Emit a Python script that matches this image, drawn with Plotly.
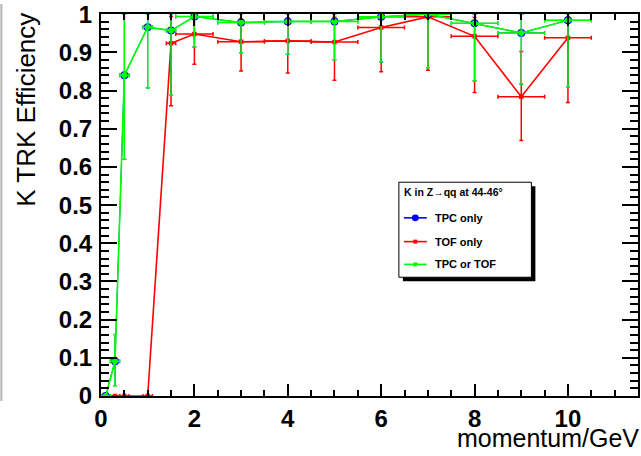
import plotly.graph_objects as go

# ---------------- data ----------------
p = [0.1, 0.3, 0.5, 1.0, 1.5, 2, 3, 4, 5, 6, 7, 8, 9, 10]
p_err = [0.1, 0.1, 0.1, 0.1, 0.1, 0.4, 0.5, 0.5, 0.5, 0.5, 0.5, 0.5, 0.5, 0.5]

eff_tpc = [0.0, 0.091, 0.84, 0.966, 0.957, 0.994, 0.978, 0.981, 0.981, 0.993, 1.0, 0.976, 0.951, 0.984]
eff_tpc_up = [0.0, 0.07, 0.16, 0.034, 0.043, 0.006, 0.022, 0.019, 0.019, 0.007, 0.0, 0.024, 0.049, 0.016]
eff_tpc_lo = [0.0, 0.064, 0.22, 0.159, 0.169, 0.08, 0.079, 0.086, 0.1, 0.118, 0.14, 0.151, 0.134, 0.174]

eff_tof = [0.0, 0.0, 0.0, 0.0, 0.924, 0.948, 0.928, 0.93, 0.927, 0.965, 0.993, 0.942, 0.784, 0.938]
eff_tof_up = [0.0, 0.0, 0.0, 0.0, 0.07, 0.045, 0.06, 0.06, 0.065, 0.03, 0.007, 0.05, 0.118, 0.055]
eff_tof_lo = [0.0, 0.0, 0.0, 0.0, 0.164, 0.079, 0.077, 0.084, 0.1, 0.116, 0.14, 0.147, 0.115, 0.169]

eff_any = [0.0, 0.091, 0.84, 0.966, 0.957, 0.994, 0.978, 0.981, 0.981, 0.993, 1.0, 0.976, 0.951, 0.984]
eff_any_up = [0.0, 0.07, 0.16, 0.034, 0.043, 0.006, 0.022, 0.019, 0.019, 0.007, 0.0, 0.024, 0.049, 0.016]
eff_any_lo = [0.0, 0.064, 0.22, 0.159, 0.169, 0.08, 0.079, 0.086, 0.1, 0.118, 0.14, 0.151, 0.134, 0.174]

legend_title = "K in Z\u2192qq at 44-46\u00b0"
series_names = ["TPC only", "TOF only", "TPC or TOF"]
series_colors = ["#0000ff", "#ff0000", "#00ff00"]
x_title = "momentum/GeV"
y_title = "K TRK Efficiency"

# ---------------- layout geometry ----------------
W, H = 641, 456
ML, MR, MT, MB = 101, 1, 10, 60
PW, PH = W - ML - MR, H - MT - MB


def px(xp):
    return (xp - ML) / PW


def py(yp):
    return (H - MB - yp) / PH


FONT = "Liberation Sans, Arial, Helvetica, sans-serif"

fig = go.Figure()


def add_series(y, up, lo, color, msize, msymbol, lw=1.6, ew=1.5):
    fig.add_trace(go.Scatter(
        x=p, y=y, mode="lines+markers",
        line=dict(color=color, width=lw),
        marker=dict(color=color, size=msize, symbol=msymbol, line=dict(width=0)),
        error_x=dict(type="data", array=p_err, color=color, thickness=ew, width=2),
        error_y=dict(type="data", symmetric=False, array=up, arrayminus=lo,
                     color=color, thickness=ew, width=2),
        showlegend=False, hoverinfo="x+y",
    ))


add_series(eff_tof, eff_tof_up, eff_tof_lo, series_colors[1], 4.5, "square")
add_series(eff_tpc, eff_tpc_up, eff_tpc_lo, series_colors[0], 8, "circle", lw=1.0, ew=1.0)
add_series(eff_any, eff_any_up, eff_any_lo, series_colors[2], 6, "circle")

axis_common = dict(
    showline=True, linecolor="black", linewidth=2, mirror="ticks",
    ticks="inside", tickcolor="black", tickwidth=1.5,
    showgrid=False, zeroline=False, ticklabeloverflow="allow",
    tickfont=dict(family=FONT, size=24, color="black", weight="bold"),
)

fig.update_xaxes(range=[0, 11.5], tick0=0, dtick=2, ticklen=12,
                 minor=dict(ticks="inside", dtick=0.5, ticklen=6, tickwidth=1.5,
                            tickcolor="black", showgrid=False),
                 **axis_common)
fig.update_yaxes(range=[0, 1.0005], tick0=0, dtick=0.1, ticklen=16,
                 minor=dict(ticks="inside", dtick=0.02, ticklen=8, tickwidth=1.5,
                            tickcolor="black", showgrid=False),
                 ticklabelstandoff=2,
                 **axis_common)

shapes = []
annotations = []

# gray canvas edge line on far left
shapes.append(dict(type="line", xref="paper", yref="paper",
                   x0=px(1), x1=px(1), y0=py(0), y1=py(401),
                   line=dict(color="#b4b4b4", width=2)))

# legend box with shadow
shapes.append(dict(type="rect", xref="paper", yref="paper",
                   x0=px(404), x1=px(537), y0=py(280), y1=py(184),
                   fillcolor="black", line=dict(width=0), layer="above"))
shapes.append(dict(type="rect", xref="paper", yref="paper",
                   x0=px(400), x1=px(533), y0=py(276), y1=py(180),
                   fillcolor="white", line=dict(color="black", width=1), layer="above"))

annotations.append(dict(text=legend_title, xref="paper", yref="paper",
                        x=px(403), y=py(190), xanchor="left", yanchor="middle",
                        showarrow=False,
                        font=dict(family=FONT, size=10.5, color="black", weight="bold")))

entry_y = [216, 240, 263]
entry_msize = [7, 4, 4]
entry_msym = ["circle", "square", "square"]
for name, col, ey, ms, msym in zip(series_names, series_colors, entry_y, entry_msize, entry_msym):
    shapes.append(dict(type="line", xref="paper", yref="paper",
                       x0=px(405), x1=px(428), y0=py(ey), y1=py(ey),
                       line=dict(color=col, width=1.6), layer="above"))
    r = ms / 2
    shapes.append(dict(type="circle" if msym == "circle" else "rect",
                       xref="paper", yref="paper",
                       x0=px(416.5 - r), x1=px(416.5 + r), y0=py(ey + r), y1=py(ey - r),
                       fillcolor=col, line=dict(width=0), layer="above"))
    annotations.append(dict(text=name, xref="paper", yref="paper",
                            x=px(434), y=py(ey), xanchor="left", yanchor="middle",
                            showarrow=False,
                            font=dict(family=FONT, size=11, color="black", weight="bold")))

# axis titles (ROOT style: right/top aligned)
annotations.append(dict(text=x_title, xref="paper", yref="paper",
                        x=px(643), y=py(438), xanchor="right", yanchor="middle",
                        showarrow=False,
                        font=dict(family=FONT, size=25, color="black")))
annotations.append(dict(text=y_title, xref="paper", yref="paper",
                        x=px(25), y=py(106.5), xanchor="center", yanchor="middle",
                        textangle=-90, showarrow=False,
                        font=dict(family=FONT, size=26, color="black")))

fig.update_layout(
    width=W, height=H,
    margin=dict(l=ML, r=MR, t=MT, b=MB, pad=0),
    paper_bgcolor="white", plot_bgcolor="white",
    shapes=shapes, annotations=annotations,
    showlegend=False,
)

fig.write_html("out.html",
               config={"displayModeBar": False},
               post_script="document.body.style.margin='0px';"
                           "document.body.style.overflow='hidden';")
